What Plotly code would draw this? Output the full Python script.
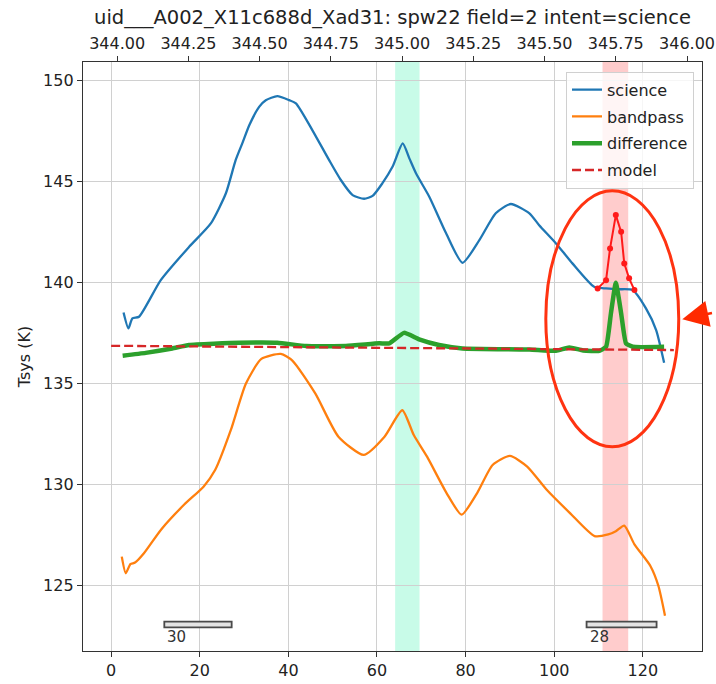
import plotly.graph_objects as go

# ---------------- data ----------------
title_text = "uid___A002_X11c688d_Xad31: spw22 field=2 intent=science"

sci_ch = [2.8, 3.9, 4.8, 6.3, 11.2, 17.6, 22.5, 25.9, 28.1, 29.6, 31.2, 33.4, 34.9,
          37.5, 40.2, 41.7, 45.4, 49.2, 51.8, 54.5, 57.1, 59.0, 61.2, 63.5, 65.8,
          67.3, 68.8, 71.8, 75.6, 79.3, 83.1, 86.8, 90.2, 94.4, 96.6, 100.4, 104.1,
          109.0, 111.7, 114.5, 117.7, 120.7, 123.0, 124.8]
sci_v = [138.53, 137.74, 138.24, 138.32, 140.13, 141.78, 142.94, 144.43, 146.07,
         146.90, 147.81, 148.71, 149.04, 149.24, 149.04, 148.88, 147.56, 146.07,
         145.10, 144.34, 144.16, 144.30, 144.92, 145.74, 146.90, 146.16, 145.42,
         144.26, 142.45, 140.99, 142.11, 143.44, 143.90, 143.44, 142.85, 141.95,
         140.96, 139.80, 139.72, 139.68, 139.64, 138.73, 137.66, 136.04]

bp_ch = [2.4, 3.3, 4.35, 5.4, 7.4, 11.3, 16.5, 20.9, 23.5, 27.0, 30.4, 33.9, 38.3,
         40.9, 46.1, 51.3, 57.0, 61.7, 65.7, 68.3, 71.3, 75.7, 79.1, 82.6, 86.1,
         90.0, 93.9, 98.3, 103.5, 109.1, 112.2, 113.9, 115.8, 118.1, 121.7, 123.5, 125.0]
bp_v = [126.44, 125.62, 126.07, 126.15, 126.61, 127.79, 129.02, 129.92, 130.74,
        132.70, 135.00, 136.23, 136.48, 136.15, 134.51, 132.38, 131.48, 132.38,
        133.69, 132.46, 131.39, 129.59, 128.52, 129.59, 130.98, 131.43, 130.90,
        129.75, 128.61, 127.46, 127.54, 127.70, 127.98, 127.05, 125.98, 125.00, 123.52]

diff_ch = [2.6, 7.8, 13.8, 17.6, 28.9, 37.5, 44.0, 53.0, 60.5, 62.8, 66.1, 69.5,
           74.0, 79.3, 94.4, 100.4, 103.4, 106.5, 110.2, 111.7, 112.8, 113.9, 115.1,
           116.2, 117.7, 124.8]
diff_v = [136.39, 136.53, 136.75, 136.92, 137.03, 137.03, 136.87, 136.87, 137.00,
          137.00, 137.52, 137.20, 136.92, 136.75, 136.70, 136.63, 136.80, 136.65,
          136.63, 136.83, 138.49, 140.00, 138.49, 137.00, 136.83, 136.83]

model_ch = [0, 127]
model_v = [136.88, 136.67]

line_ch = [109.8, 111.7, 112.6, 113.9, 115.1, 115.8, 116.9, 118.1]
line_v = [139.72, 140.13, 141.70, 143.35, 142.52, 140.96, 140.22, 139.64]

band_cyan = [64.1, 69.6]
band_pink = [110.9, 116.7]

bar_start = [12.0, 107.3]
bar_end = [27.2, 123.1]
bar_labels = ["30", "28"]
bar_y = [122.94, 123.22]

ellipse_ch = [98.1, 128.1]
ellipse_v = [131.88, 144.55]
arrow_tip = (128.9, 138.2)

freq0 = 343.979       # GHz at channel 0
dfreq = 0.01555       # GHz per channel
freq_ticks = [344.00, 344.25, 344.50, 344.75, 345.00, 345.25, 345.50, 345.75, 346.00]

x_range = [-6.35, 133.35]
y_range = [121.77, 150.93]

# ---------------- figure ----------------
FONT = "DejaVu Sans"
fig = go.Figure()

fig.add_trace(go.Scatter(x=sci_ch, y=sci_v, mode="lines", name="science", legendgroup="a",
                         line=dict(color="#1f77b4", width=2.3, shape="spline", smoothing=0.6)))
fig.add_trace(go.Scatter(x=bp_ch, y=bp_v, mode="lines", name="bandpass", legendgroup="b",
                         line=dict(color="#ff7f0e", width=2.3, shape="spline", smoothing=0.6)))
fig.add_trace(go.Scatter(x=diff_ch, y=diff_v, mode="lines", name="difference", legendgroup="c",
                         line=dict(color="#2ca02c", width=4.5, shape="spline", smoothing=0.4)))
fig.add_trace(go.Scatter(x=model_ch, y=model_v, mode="lines", name="model", legendgroup="d",
                         line=dict(color="#d62728", width=2.3, dash="9px,4px")))
fig.add_trace(go.Scatter(x=line_ch, y=line_v, mode="lines+markers", showlegend=False,
                         line=dict(color="#ff1a1a", width=2),
                         marker=dict(color="#ff1a1a", size=6)))
# invisible trace to carry the top frequency axis
fig.add_trace(go.Scatter(x=[freq0 + dfreq * c for c in model_ch], y=model_v,
                         xaxis="x2", mode="lines", line=dict(width=0),
                         showlegend=False, hoverinfo="skip"))

# shaded channel ranges
for (a, b), col in [(band_cyan, "#c8fbe8"), (band_pink, "#ffcccc")]:
    fig.add_shape(type="rect", xref="x", yref="paper", x0=a, x1=b, y0=0, y1=1,
                  fillcolor=col, line=dict(width=0), layer="below")

# bottom bars with labels
for s, e, lab in zip(bar_start, bar_end, bar_labels):
    fig.add_shape(type="rect", xref="x", yref="y", x0=s, x1=e, y0=bar_y[0], y1=bar_y[1],
                  fillcolor="#e4e4e4", line=dict(color="#4a4a4a", width=1.8), layer="above")
    fig.add_annotation(x=s, y=bar_y[0], xref="x", yref="y", text=lab, showarrow=False,
                       xanchor="left", yanchor="top", yshift=1, xshift=1,
                       font=dict(family=FONT, size=15, color="#333333"))

# ellipse highlighting the line
fig.add_shape(type="circle", xref="x", yref="y", x0=ellipse_ch[0], x1=ellipse_ch[1],
              y0=ellipse_v[0], y1=ellipse_v[1], line=dict(color="#ff3311", width=3),
              layer="above")

# arrow pointing at the ellipse
fig.add_annotation(x=arrow_tip[0], y=arrow_tip[1], xref="x", yref="y", text=" ",
                   showarrow=True, ax=48, ay=-7, arrowhead=2, arrowsize=2.1,
                   arrowwidth=2.5, arrowcolor="#ff2a00", standoff=0)

axis_common = dict(showline=True, linecolor="#333333", linewidth=1.3,
                   ticks="outside", ticklen=5, tickwidth=1.3, tickcolor="#333333",
                   tickfont=dict(family=FONT, size=16, color="#222222"),
                   zeroline=False)

fig.update_layout(
    width=716, height=684,
    margin=dict(l=83, r=14, t=62, b=33, pad=0),
    paper_bgcolor="white", plot_bgcolor="white",
    font=dict(family=FONT, size=16, color="#222222"),
    title=dict(text=title_text, x=(83 + 702) / 2 / 716, xanchor="center",
               y=1 - 17 / 684, yanchor="middle", yref="container",
               font=dict(family=FONT, size=19.5, color="#222222")),
    xaxis=dict(range=x_range, tickmode="array", tickvals=[0, 20, 40, 60, 80, 100, 120],
               showgrid=True, gridcolor="#d0d0d0", gridwidth=1.3, mirror=True,
               automargin=False, **axis_common),
    xaxis2=dict(range=[freq0 + dfreq * x_range[0], freq0 + dfreq * x_range[1]],
                overlaying="x", side="top", anchor="y", tickmode="array",
                tickvals=freq_ticks, ticktext=[f"{v:.2f}" for v in freq_ticks],
                showgrid=False, automargin=False, **axis_common),
    yaxis=dict(range=y_range, tickmode="array", tickvals=[125, 130, 135, 140, 145, 150],
               showgrid=True, gridcolor="#d0d0d0", gridwidth=1.3, mirror=True,
               automargin=False,
               title=dict(text="Tsys (K)", standoff=8,
                          font=dict(family=FONT, size=16, color="#222222")),
               **axis_common),
    legend=dict(x=(694 - 83) / 619, xanchor="right", y=1 - (71.7 - 62) / 589, yanchor="top",
                bgcolor="rgba(255,255,255,0.8)", bordercolor="#d0d0d0", borderwidth=1,
                font=dict(family=FONT, size=16, color="#222222"), itemwidth=30,
                tracegroupgap=3),
    showlegend=True,
)

fig.write_html("out.html")
